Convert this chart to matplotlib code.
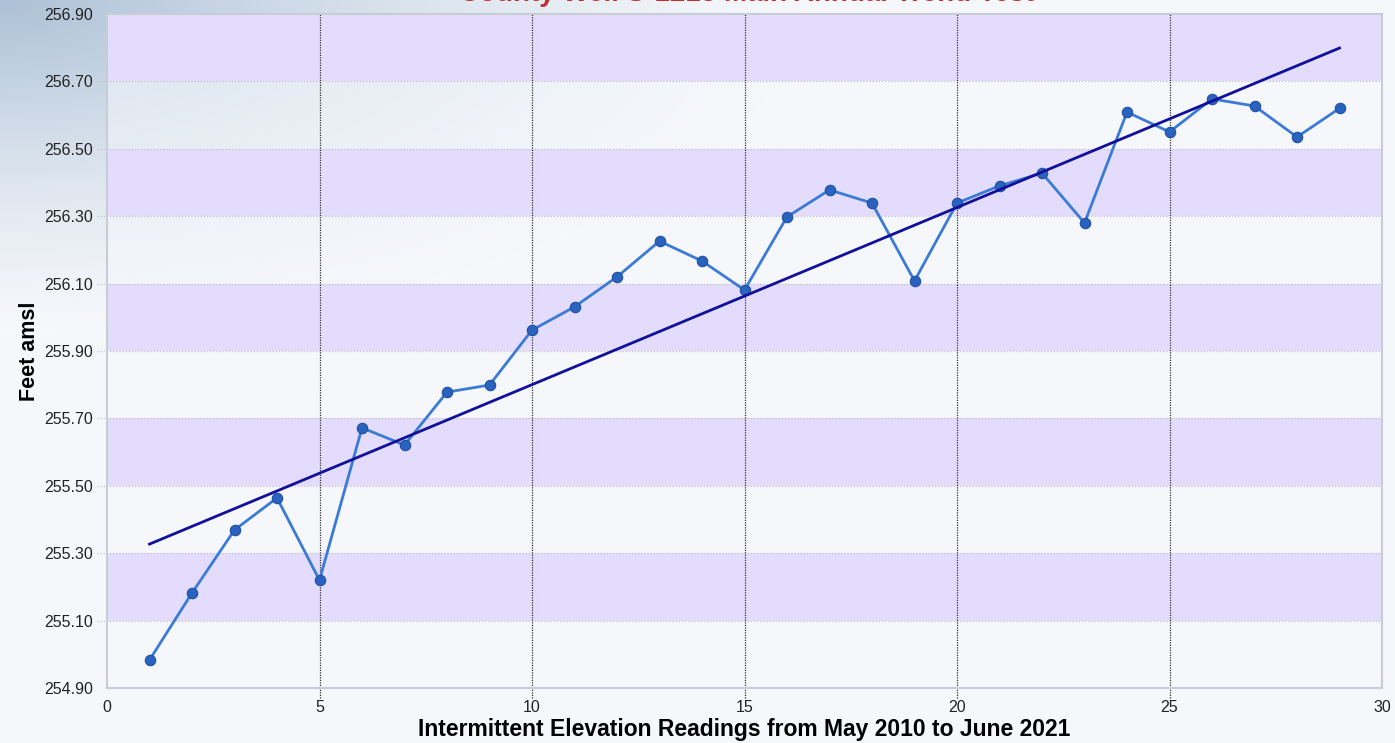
import numpy as np
import matplotlib
matplotlib.use("Agg")
import matplotlib.pyplot as plt

# ---- data ----
readings = list(range(1, 30))
elevation = [254.983, 255.182, 255.369, 255.464, 255.220, 255.672, 255.621, 255.778,
             255.799, 255.962, 256.031, 256.120, 256.226, 256.167, 256.081, 256.298,
             256.378, 256.339, 256.108, 256.339, 256.390, 256.428, 256.280, 256.609,
             256.550, 256.648, 256.627, 256.535, 256.620]
trend_x = [1, 29]
trend_y = [255.327, 256.799]
y_ticks = [254.90, 255.10, 255.30, 255.50, 255.70, 255.90, 256.10, 256.30, 256.50, 256.70, 256.90]
x_ticks = [0, 5, 10, 15, 20, 25, 30]
x_vlines = [5, 10, 15, 20, 25]
title = "County Well S-1215 Main Annual Trend Test"
xlabel = "Intermittent Elevation Readings from May 2010 to June 2021"
ylabel = "Feet amsl"

W, H = 1395, 743
fig = plt.figure(figsize=(W / 100, H / 100), dpi=100)

# background gradient
bg = fig.add_axes([0, 0, 1, 1], zorder=-10)
yy, xx = np.mgrid[0:H, 0:W]
d = np.sqrt((xx / 800.0) ** 2 + (yy / 330.0) ** 2)
t = np.clip(1 - d, 0, 1) ** 1.4
c0 = np.array([172, 193, 214]) / 255.0
c1 = np.array([245, 247, 251]) / 255.0
img = c1[None, None, :] + (c0 - c1)[None, None, :] * t[:, :, None]
bg.imshow(img, extent=[0, 1, 0, 1], aspect="auto", origin="upper")
bg.axis("off")

ax = fig.add_axes([107 / W, 55 / H, 1275 / W, 674 / H])
ax.set_facecolor("none")
ax.set_xlim(0, 30)
ax.set_ylim(254.90, 256.90)

# alternating bands
for i in range(1, len(y_ticks) - 1, 2):
    ax.axhspan(y_ticks[i], y_ticks[i + 1], color="#e4dcfc", zorder=0, lw=0)
for i in range(0, len(y_ticks) - 1, 2):
    ax.axhspan(y_ticks[i], y_ticks[i + 1], color="#f5f7fb", alpha=0.55, zorder=0, lw=0)

# grid (extending outside as dotted ticks)
ytr = ax.get_yaxis_transform()
xtr = ax.get_xaxis_transform()
for yv in y_ticks[1:-1]:
    ax.plot([-10 / 1275, 1], [yv, yv], transform=ytr, color="#c4c4cc", lw=0.9,
            ls=(0, (1, 1.5)), zorder=1, clip_on=False)
for xv in x_vlines:
    ax.plot([xv, xv], [-10 / 674, 1], transform=xtr, color="#303030", lw=0.9,
            ls=(0, (1, 1)), zorder=1, clip_on=False)

ax.plot(readings, elevation, color="#3a7bd5", lw=2.0, zorder=3,
        marker="o", markersize=7.5, markerfacecolor="#2a62c0",
        markeredgecolor="#1f4fa0", markeredgewidth=0.8)
ax.plot(trend_x, trend_y, color="#10109a", lw=2.0, zorder=4)

ax.set_xticks(x_ticks)
ax.set_yticks(y_ticks)
ax.set_yticklabels([f"{v:.2f}" for v in y_ticks])
ax.tick_params(axis="y", length=0, pad=10, labelsize=11.5, labelcolor="#222222")
ax.tick_params(axis="x", length=0, pad=9, labelsize=11.5, labelcolor="#222222")
for lab in ax.get_xticklabels() + ax.get_yticklabels():
    lab.set_family("Liberation Sans")

for s in ax.spines.values():
    s.set_color("#c8ccd4")
    s.set_linewidth(1.5)

ax.set_xlabel(xlabel, fontsize=16.5, fontweight="bold", family="Liberation Sans",
              color="black", labelpad=2)
ax.set_ylabel(ylabel, fontsize=15.5, fontweight="bold", family="Liberation Sans",
              color="black", labelpad=3)

fig.text(0.535, 1 - 1.2 / H, title, ha="center", va="baseline", fontsize=20,
         fontweight="bold", color="#c03030", family="Liberation Sans")

fig.savefig("out.png", dpi=100)
